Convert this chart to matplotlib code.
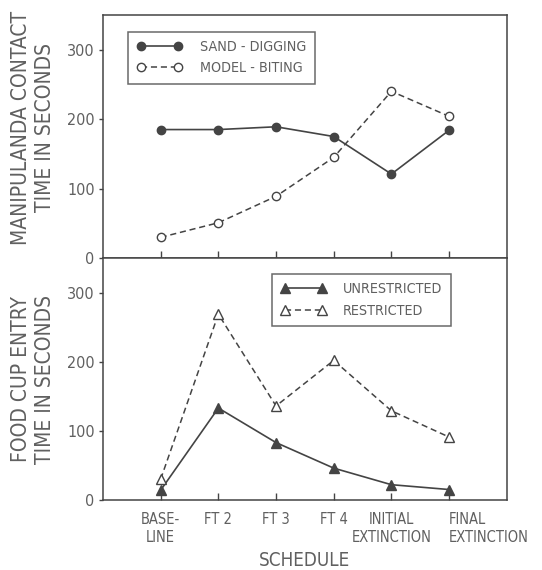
import numpy as np
import matplotlib.pyplot as plt

plt.rcParams['font.family'] = ['DejaVu Sans']
plt.rcParams['font.stretch'] = 'condensed'

schedules = ['BASE-\nLINE', 'FT 2', 'FT 3', 'FT 4', 'INITIAL\nEXTINCTION', 'FINAL\nEXTINCTION']
sand_digging = [185, 185, 189, 175, 121, 184]
model_biting = [30, 51, 89, 145, 240, 204]
unrestricted = [14, 133, 83, 46, 22, 15]
restricted = [30, 269, 136, 202, 129, 91]

ink = '#444444'
txt = '#606060'
x = np.arange(len(schedules))

fig = plt.figure(figsize=(5.42, 5.70), dpi=100)
ax1 = fig.add_axes([0.190, 0.547, 0.745, 0.427])
ax2 = fig.add_axes([0.190, 0.123, 0.745, 0.424])

ax1.plot(x, sand_digging, '-', color=ink, lw=1.2, marker='o', ms=6,
         mfc=ink, mec=ink, label='SAND - DIGGING')
ax1.plot(x, model_biting, color=ink, lw=1.1, ls=(0, (4, 2.5)), marker='o', ms=6,
         mfc='white', mec=ink, mew=1.0, label='MODEL - BITING')

ax2.plot(x, unrestricted, '-', color=ink, lw=1.2, marker='^', ms=7,
         mfc=ink, mec=ink, label='UNRESTRICTED')
ax2.plot(x, restricted, color=ink, lw=1.1, ls=(0, (4, 2.5)), marker='^', ms=7,
         mfc='white', mec=ink, mew=1.0, label='RESTRICTED')

for ax in (ax1, ax2):
    ax.set_xlim(-1, 6)
    ax.set_ylim(0, 350)
    ax.set_yticks([0, 100, 200, 300])
    ax.set_xticks(x)
    ax.tick_params(axis='x', direction='in', length=5, width=1, color=ink)
    ax.tick_params(axis='y', direction='out', length=3, width=1, color=ink,
                   labelsize=11.5, labelcolor=txt, pad=3)
    for s in ax.spines.values():
        s.set_color(ink)
        s.set_linewidth(1.1)

ax1.tick_params(axis='x', labelbottom=False)
ax2.tick_params(axis='x', pad=9)
ax2.set_xticklabels(schedules, fontsize=10.5, color=txt, linespacing=1.2)
labs = ax2.get_xticklabels()
labs[-1].set_ha('left')
labs[-1].set_multialignment('left')
labs[-1].set_x(4.92)

ax1.set_ylabel('MANIPULANDA CONTACT\nTIME IN SECONDS', fontsize=15, color=txt,
               linespacing=1.2)
ax2.set_ylabel('FOOD CUP ENTRY\nTIME IN SECONDS', fontsize=15, color=txt,
               linespacing=1.2)
ax1.yaxis.set_label_coords(-0.12, 0.535)
ax2.yaxis.set_label_coords(-0.12, 0.5)
ax2.set_xlabel('SCHEDULE', fontsize=13.5, color=txt)
ax2.xaxis.set_label_coords(0.5, -0.21)

for ax, anchor in ((ax1, (0.045, 0.96)), (ax2, (0.40, 0.965))):
    leg = ax.legend(loc='upper left', bbox_to_anchor=anchor, numpoints=2,
                    handlelength=3.2, fancybox=False, frameon=True,
                    edgecolor=ink, fontsize=10.3, labelcolor=txt,
                    borderpad=0.6, labelspacing=0.5, handletextpad=1.2)
    leg.get_frame().set_linewidth(1.1)

fig.savefig('out.png', dpi=100)
